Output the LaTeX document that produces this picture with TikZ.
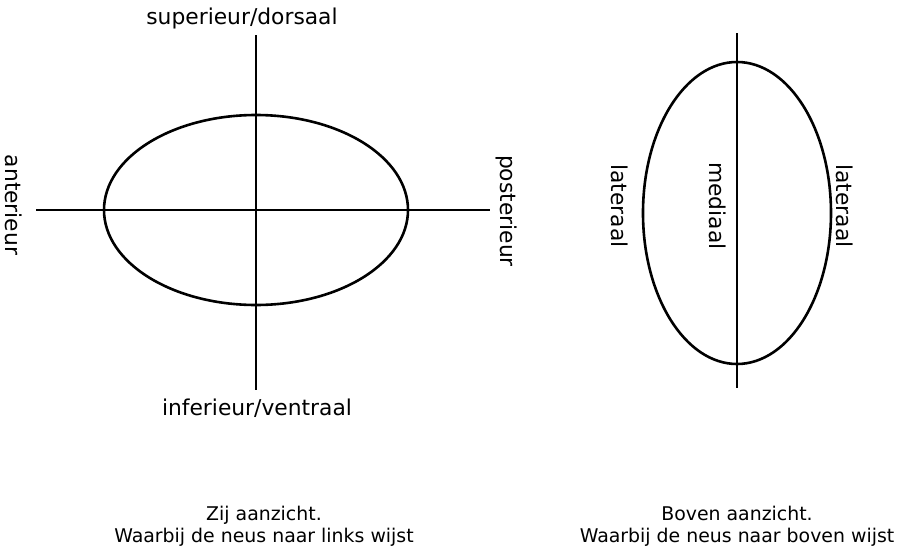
\documentclass[tikz,border=0pt]{standalone}
\usepackage{fontspec}
\setmainfont{DejaVu Sans}
\begin{document}
\begin{tikzpicture}[x=1pt,y=-1pt,
  lbl/.style={font=\fontsize{21.8}{26}\selectfont, inner sep=0pt},
  vlbl/.style={lbl, rotate=-90},
  captxt/.style={font=\fontsize{18.9}{22}\selectfont, inner sep=0pt, align=center},
  axis/.style={line width=1.2pt},
  body/.style={line width=2.6pt}]
\useasboundingbox (0,0) rectangle (898,549);
% left view
\coordinate (c1) at (256,210);
\coordinate (t1) at (256,35);
\coordinate (b1) at (256,390);
\coordinate (l1) at (36,210);
\coordinate (r1) at (490,210);
\draw[axis] (t1) -- (b1);
\draw[axis] (l1) -- (r1);
\draw[body] (c1) ellipse [x radius=152, y radius=95];
\node[lbl] (sup) at (242,18) {superieur/dorsaal};
\node[lbl] (inf) at (257,408) {inferieur/ventraal};
\node[vlbl] (ant) at (14,205) {anterieur};
\node[vlbl] (post) at (507,211) {posterieur};
% right view
\coordinate (c2) at (737,213);
\coordinate (t2) at (737,33);
\coordinate (b2) at (737,388);
\draw[axis] (t2) -- (b2);
\draw[body] (c2) ellipse [x radius=94, y radius=151];
\node[vlbl] (lat1) at (620,206) {lateraal};
\node[vlbl] (med) at (718,206) {mediaal};
\node[vlbl] (lat2) at (845,206) {lateraal};
% captions
\node[captxt] (cap1) at (264,526) {Zij aanzicht.\\Waarbij de neus naar links wijst};
\node[captxt] (cap2) at (737,526) {Boven aanzicht.\\Waarbij de neus naar boven wijst};
\end{tikzpicture}
\end{document}
